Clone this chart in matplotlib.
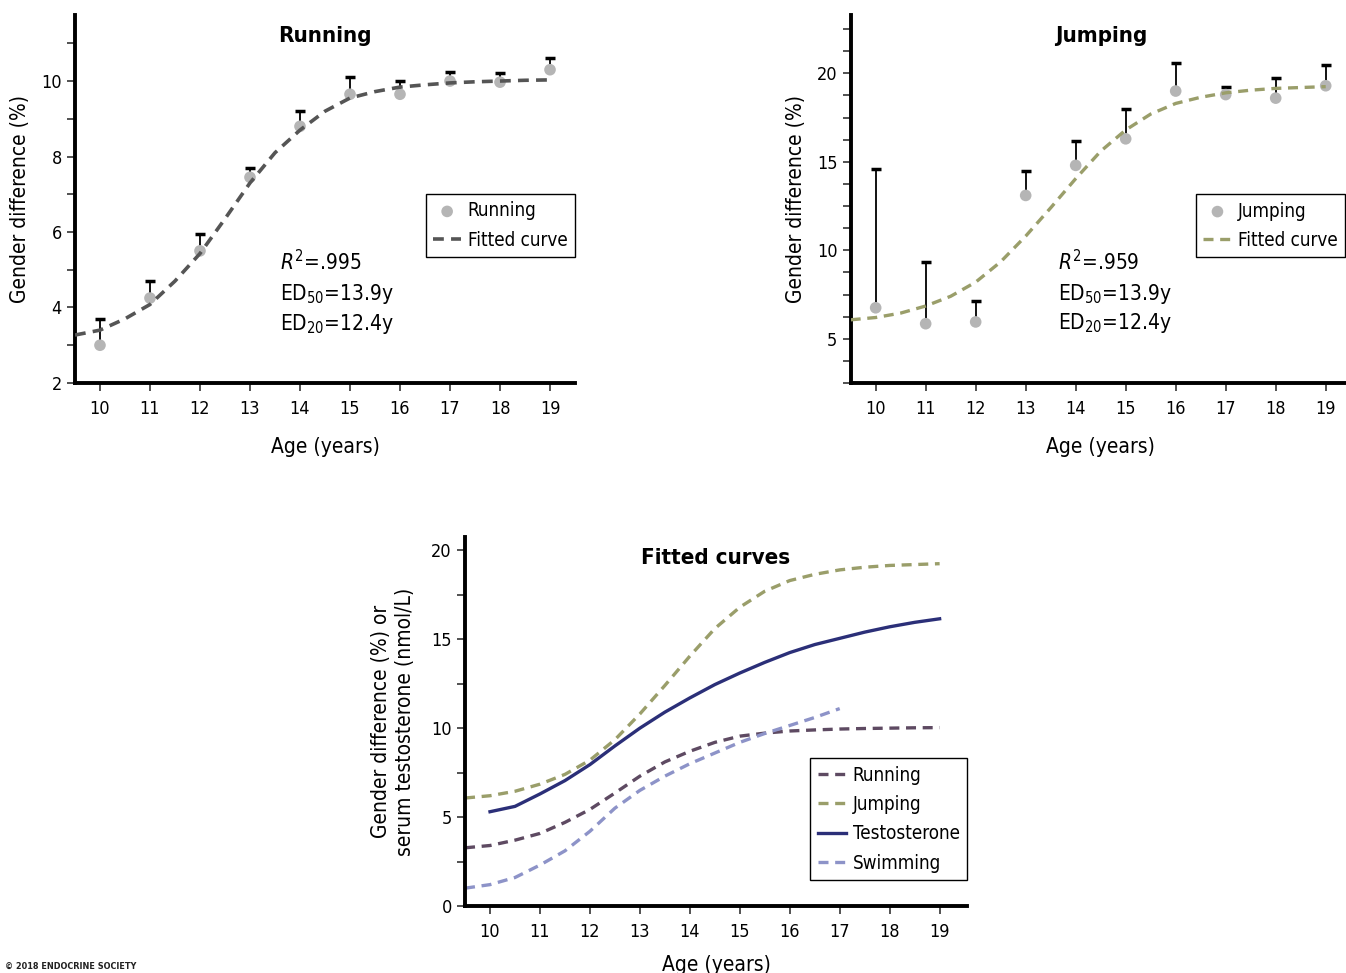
import matplotlib
matplotlib.use("Agg")
import matplotlib.pyplot as plt
from matplotlib.ticker import MultipleLocator

plt.rcParams['font.family'] = ['DejaVu Sans']
plt.rcParams['font.stretch'] = 'condensed'
plt.rcParams['mathtext.fontset'] = 'custom'
plt.rcParams['mathtext.rm'] = 'DejaVu Sans:stretch=condensed'
plt.rcParams['mathtext.it'] = 'DejaVu Sans:italic:stretch=condensed'

ages = [10, 11, 12, 13, 14, 15, 16, 17, 18, 19]

# Running: observed gender difference and upper error bar ends
run_vals = [3.0, 4.25, 5.5, 7.45, 8.8, 9.65, 9.65, 10.0, 9.97, 10.3]
run_upper = [3.7, 4.7, 5.95, 7.7, 9.2, 10.1, 10.0, 10.25, 10.2, 10.6]

# Jumping: observed gender difference and upper error bar ends
jump_vals = [6.75, 5.85, 5.95, 13.1, 14.8, 16.3, 19.0, 18.8, 18.6, 19.3]
jump_upper = [14.6, 9.35, 7.15, 14.5, 16.2, 18.0, 20.6, 19.25, 19.75, 20.45]

# fitted curves, read at half-year steps
curve_ages = [9.5, 10, 10.5, 11, 11.5, 12, 12.5, 13, 13.5, 14, 14.5,
              15, 15.5, 16, 16.5, 17, 17.5, 18, 18.5, 19]
run_fit = [3.27, 3.4, 3.7, 4.08, 4.7, 5.43, 6.35, 7.3, 8.1, 8.7, 9.2,
           9.55, 9.72, 9.84, 9.9, 9.95, 9.98, 10.0, 10.02, 10.03]
jump_fit = [6.07, 6.2, 6.45, 6.85, 7.4, 8.2, 9.35, 10.8, 12.4, 14.05, 15.6,
            16.8, 17.7, 18.3, 18.65, 18.9, 19.05, 19.15, 19.2, 19.25]

testo_ages = [10, 10.5, 11, 11.5, 12, 12.5, 13, 13.5, 14, 14.5,
              15, 15.5, 16, 16.5, 17, 17.5, 18, 18.5, 19]
testo_fit = [5.3, 5.6, 6.3, 7.05, 7.95, 9.0, 10.0, 10.9, 11.7, 12.45,
             13.1, 13.7, 14.25, 14.7, 15.05, 15.4, 15.7, 15.95, 16.15]

swim_ages = [9.5, 10, 10.5, 11, 11.5, 12, 12.5, 13, 13.5, 14, 14.5,
             15, 15.5, 16, 16.5, 17]
swim_fit = [1.0, 1.2, 1.6, 2.3, 3.1, 4.2, 5.5, 6.5, 7.3, 8.0, 8.6,
            9.2, 9.7, 10.15, 10.6, 11.1]

point_col = '#b5b5b5'
run_col = '#555555'
jump_col = '#9a9e6a'
run3_col = '#5e4a62'
testo_col = '#2b2f78'
swim_col = '#8d93c8'
dash = (0, (3, 2))

fig = plt.figure(figsize=(13.46, 9.73), dpi=100)


def style_axes(ax, xlim, ylim, major, minor):
    for side in ['top', 'right']:
        ax.spines[side].set_visible(False)
    for side in ['left', 'bottom']:
        ax.spines[side].set_linewidth(2.8)
    ax.set_xlim(*xlim)
    ax.set_ylim(*ylim)
    ax.set_xticks(ages)
    ax.yaxis.set_major_locator(MultipleLocator(major))
    ax.yaxis.set_minor_locator(MultipleLocator(minor))
    ax.tick_params(axis='both', which='major', labelsize=13, width=1.2,
                   length=6, color='#333333')
    ax.tick_params(axis='y', which='minor', width=1.2, length=6, color='#333333')
    ax.tick_params(axis='x', pad=6)


def add_legend(ax, **kw):
    ax.legend(fontsize=13.5, fancybox=False, edgecolor='black', framealpha=1,
              borderpad=0.4, handlelength=1.5, handletextpad=0.35,
              borderaxespad=0, labelspacing=0.55, **kw)


def stats_text(ax, x, ys, r2):
    ax.text(x, ys[0], r'$\mathit{R}^2$=' + r2, fontsize=15)
    ax.text(x, ys[1], r'ED$_{50}$=13.9y', fontsize=15)
    ax.text(x, ys[2], r'ED$_{20}$=12.4y', fontsize=15)


# Running panel
ax1 = fig.add_axes([0.0557, 0.6064, 0.3715, 0.3782])
style_axes(ax1, (9.5, 19.5), (2, 11.75), 2, 1)
ax1.vlines(ages, run_vals, run_upper, color='black', lw=1.3, zorder=2)
ax1.scatter(ages, run_upper, marker='_', s=60, color='black', linewidths=2.5, zorder=2)
ax1.scatter(ages, run_vals, s=70, color=point_col, edgecolors='none', zorder=3,
            label='Running')
ax1.plot(curve_ages, run_fit, ls=dash, lw=2.6, color=run_col, zorder=4,
         label='Fitted curve')
ax1.text(0.5, 0.97, 'Running', transform=ax1.transAxes, ha='center', va='top',
         fontsize=16, fontweight='bold')
ax1.set_xlabel('Age (years)', fontsize=15, labelpad=14)
ax1.set_ylabel('Gender difference (%)', fontsize=15, labelpad=8)
stats_text(ax1, 13.6, [5.0, 4.2, 3.4], '.995')
add_legend(ax1, loc='upper right', bbox_to_anchor=(1.0, 0.514))

# Jumping panel
ax2 = fig.add_axes([0.632, 0.6064, 0.3715, 0.3782])
style_axes(ax2, (9.5, 19.5), (2.5, 23.3), 5, 1.25)
ax2.vlines(ages, jump_vals, jump_upper, color='black', lw=1.3, zorder=2)
ax2.scatter(ages, jump_upper, marker='_', s=60, color='black', linewidths=2.5, zorder=2)
ax2.scatter(ages, jump_vals, s=70, color=point_col, edgecolors='none', zorder=3,
            label='Jumping')
ax2.plot(curve_ages, jump_fit, ls=dash, lw=2.4, color=jump_col, zorder=4,
         label='Fitted curve')
ax2.text(0.5, 0.97, 'Jumping', transform=ax2.transAxes, ha='center', va='top',
         fontsize=16, fontweight='bold')
ax2.set_xlabel('Age (years)', fontsize=15, labelpad=14)
ax2.set_ylabel('Gender difference (%)', fontsize=15, labelpad=8)
stats_text(ax2, 13.64, [8.85, 7.2, 5.55], '.959')
add_legend(ax2, loc='upper right', bbox_to_anchor=(0.9995, 0.8006),
           bbox_transform=fig.transFigure)

# Fitted curves panel
ax3 = fig.add_axes([0.3455, 0.0689, 0.373, 0.3792])
style_axes(ax3, (9.5, 19.55), (0, 20.75), 5, 2.5)
ax3.plot(curve_ages, run_fit, ls=dash, lw=2.4, color=run3_col, label='Running')
ax3.plot(curve_ages, jump_fit, ls=dash, lw=2.4, color=jump_col, label='Jumping')
ax3.plot(testo_ages, testo_fit, lw=2.4, color=testo_col, label='Testosterone')
ax3.plot(swim_ages, swim_fit, ls=dash, lw=2.4, color=swim_col, label='Swimming')
ax3.text(0.5, 0.97, 'Fitted curves', transform=ax3.transAxes, ha='center', va='top',
         fontsize=16, fontweight='bold')
ax3.set_xlabel('Age (years)', fontsize=15, labelpad=10)
ax3.set_ylabel('Gender difference (%) or\nserum testosterone (nmol/L)', fontsize=15,
               labelpad=12, linespacing=1.25)
add_legend(ax3, loc='lower right', bbox_to_anchor=(1.0, 0.07))

fig.text(0.004, 0.004, '\u00a9 2018 ENDOCRINE SOCIETY', fontsize=6.5,
         fontweight='bold', color='#222222')

fig.savefig('out.png', dpi=100)
